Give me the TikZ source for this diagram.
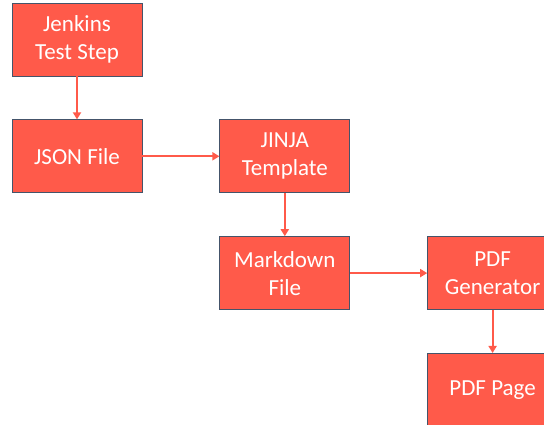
\documentclass[tikz,border=0pt]{standalone}
\usepackage{fontspec}
\setmainfont{Carlito}
\usetikzlibrary{positioning, arrows.meta}
\definecolor{boxred}{HTML}{FF5A4A}
\definecolor{boxedge}{HTML}{44546A}

\begin{document}
\begin{tikzpicture} [x=1pt, y=1pt,
	stepbox/.style = {draw=boxedge, line width=0.8pt, fill=boxred, text=white,
		minimum width=130pt, minimum height=73pt, align=center, inner sep=2pt,
		font=\fontsize{23}{28}\selectfont},
	flow/.style = {draw=boxred, line width=2.2pt, -{Triangle[length=7pt, width=8pt]}},
	node distance = 43pt and 77pt]
	\useasboundingbox (0,0) rectangle (544,425);
	\node [stepbox] (jenkins) at (77,385.5) {Jenkins\\Test Step};
	\node [stepbox, below=of jenkins] (json) {JSON File};
	\node [stepbox, right=of json] (jinja) {JINJA\\Template};
	\node [stepbox, below=of jinja] (markdown) {Markdown\\File};
	\node [stepbox, right=of markdown] (generator) {PDF\\Generator};
	\node [stepbox, below=of generator] (page) {PDF Page};
	\draw [flow] (jenkins) -- (json);
	\draw [flow] (json) -- (jinja);
	\draw [flow] (jinja) -- (markdown);
	\draw [flow] (markdown) -- (generator);
	\draw [flow] (generator) -- (page);
\end{tikzpicture}
\end{document}
